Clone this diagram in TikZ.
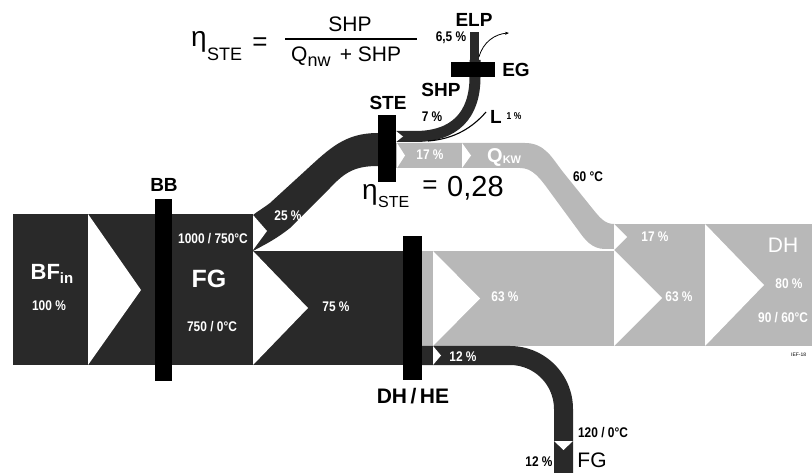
\documentclass[tikz,border=0pt]{standalone}
\usepackage{fontspec}
\setmainfont{Liberation Sans}
\usetikzlibrary{arrows.meta}
\definecolor{dk}{gray}{0.16}
\definecolor{lt}{gray}{0.72}
\newcommand{\sm}[1]{\scalebox{0.85}[1]{#1}}
\tikzset{
  lb/.style={inner sep=0pt, font=\bfseries\fontsize{14}{14}\selectfont},
  wlb/.style={lb, text=white},
  big/.style={inner sep=0pt, font=\bfseries\fontsize{19}{19}\selectfont},
  frm/.style={inner sep=0pt, font=\fontsize{21}{21}\selectfont},
  eta/.style={inner sep=0pt, font=\fontsize{28}{28}\selectfont},
  barbox/.style={fill=black},
  notchw/.style={fill=white},
  flowdk/.style={fill=dk},
  flowlt/.style={fill=lt},
}
\begin{document}
\begin{tikzpicture}[x=1pt,y=-1pt]
\useasboundingbox (0,0) rectangle (812,473);
% dark flows
\fill[flowdk] (13,214) rectangle (253,365);
\fill[flowdk] (253,251) rectangle (403,365);
\fill[flowdk] (253,215) .. controls (258,211) and (265,207) .. (270,203) -- (305,171) .. controls (330,148) and (345,133) .. (378,133)
  -- (378,166) .. controls (355,166) and (345,172) .. (330,188) -- (290,228) .. controls (275,240) and (262,246) .. (253,251) -- cycle;
% light flows
\fill[flowlt] (422,251) rectangle (614,346);
\fill[flowlt] (614,224) rectangle (812,346);
\fill[flowlt] (396,143) -- (525,143) .. controls (545,143) and (552,158) .. (563,172) -- (592,208) .. controls (600,218) and (605,224) .. (614,224)
  -- (614,249) -- (605,249) .. controls (592,249) and (585,240) .. (578,230) -- (553,196) .. controls (540,178) and (533,168) .. (520,168) -- (396,168) -- cycle;
% 12% flue gas band
\fill[flowdk] (422,346) -- (510,346) .. controls (544.8,346) and (573,374.2) .. (573,409) -- (573,473) -- (554,473) -- (554,409) .. controls (554,384.7) and (534.3,365) .. (510,365) -- (422,365) -- cycle;
% SHP band
\draw[dk, line width=11pt] (396,136.5) -- (415,136.5) .. controls (455,136.5) and (475,115) .. (475,77) -- (475,60);
\draw[dk, line width=9pt] (474.5,64) -- (474.5,32);
% notches
\fill[notchw] (88,214) -- (141,290) -- (88,365) -- cycle;
\fill[notchw] (253,215) -- (267,231) -- (253,250) -- cycle;
\fill[notchw] (253,251) -- (308,308) -- (253,365) -- cycle;
\fill[notchw] (433,251) -- (480,298.5) -- (433,346) -- cycle;
\fill[notchw] (433,346) -- (441,355.5) -- (433,365) -- cycle;
\fill[notchw] (614,224) -- (627,237) -- (614,250) -- cycle;
\fill[notchw] (614,250) -- (662,298) -- (614,346) -- cycle;
\fill[notchw] (705,224) -- (764,285) -- (705,346) -- cycle;
\fill[notchw] (397,143) -- (405,155.5) -- (397,168) -- cycle;
\fill[notchw] (462,143) -- (471,155.5) -- (462,168) -- cycle;
\fill[notchw] (396,131) -- (403,136.5) -- (396,142) -- cycle;
\fill[notchw] (554,441) -- (563.5,450) -- (573,441) -- cycle;
% bars
\fill[barbox] (155,199) rectangle (172,381);
\fill[barbox] (378,115) rectangle (396,182);
\fill[barbox] (403,236) rectangle (422,380);
\fill[barbox] (451,62) rectangle (495,77);
% thin lines
\coordinate (l0) at (428,141);
\coordinate (l1) at (486,112);
\draw[line width=1.1pt] (l0) .. controls (455,139) and (473,127) .. (l1);
\coordinate (e0) at (479,57);
\coordinate (e1) at (509,33);
\draw[line width=0.8pt, -{Stealth[length=4pt,width=3pt]}] (e0) .. controls (483,42) and (495,34) .. (e1);
% formula top
\node[eta, anchor=base west] (eta1) at (191,47) {η};
\node[inner sep=0pt, font=\fontsize{18}{18}\selectfont, anchor=base west] (ste1) at (207,61) {STE};
\node[inner sep=0pt, font=\fontsize{26}{26}\selectfont] (eq1) at (260,44) {=};
\draw[line width=1.2pt] (285,39) -- (417,39);
\node[frm, anchor=base] (num) at (350,32) {SHP};
\node[frm, anchor=base west] (den) at (291,62) {Q\raisebox{-5pt}{\fontsize{18}{18}\selectfont nw}\, + SHP};
% formula 2
\node[eta, anchor=base west] (eta2) at (362,200) {η};
\node[inner sep=0pt, font=\fontsize{16}{16}\selectfont, anchor=base west] (ste2) at (378,208) {STE};
\node[inner sep=0pt, font=\fontsize{26}{26}\selectfont] (eq2) at (430,187) {=};
\node[inner sep=0pt, font=\fontsize{29}{29}\selectfont, anchor=base west] (val) at (447,197) {0,28};
% big labels
\node[big] (bb) at (164,185) {BB};
\node[big] (ste) at (388,103) {STE};
\node[big] (shp) at (441,90) {SHP};
\node[big] (elp) at (474,20) {ELP};
\node[big] (eg) at (516,70) {EG};
\node[big] (ll) at (496,117) {L};
\node[big, font=\bfseries\fontsize{21}{21}\selectfont] (dhhe) at (413,396) {DH\,/\,HE};
\node[inner sep=0pt, font=\fontsize{21}{21}\selectfont] (fgb) at (592,460) {FG};
\node[inner sep=0pt, font=\fontsize{21}{21}\selectfont, text=white] (dh) at (783,245.5) {DH};
\node[inner sep=0pt, font=\bfseries\fontsize{25}{25}\selectfont, text=white] (fg) at (209,279) {FG};
\node[inner sep=0pt, font=\bfseries\fontsize{22}{22}\selectfont, text=white, anchor=base] (bf) at (52,280) {BF\raisebox{-4pt}{\fontsize{15}{15}\selectfont in}};
\node[inner sep=0pt, font=\bfseries\fontsize{20}{20}\selectfont, text=white, anchor=base west] (qkw) at (487,163) {Q\raisebox{-1pt}{\fontsize{11}{11}\selectfont KW}};
% small labels
\node[wlb] (p100) at (49,306) {\sm{100 \%}};
\node[wlb] (t1) at (213,239) {\sm{1000 / 750°C}};
\node[wlb] (t2) at (212,327) {\sm{750 / 0°C}};
\node[wlb] (p25) at (288,216) {\sm{25 \%}};
\node[wlb] (p75) at (336,307) {\sm{75 \%}};
\node[wlb] (p63a) at (505,297) {\sm{63 \%}};
\node[wlb] (p12a) at (463,357) {\sm{12 \%}};
\node[wlb] (p17a) at (430,155) {\sm{17 \%}};
\node[wlb] (p17b) at (655,237) {\sm{17 \%}};
\node[wlb] (p63b) at (679,297) {\sm{63 \%}};
\node[wlb] (p80) at (789,284) {\sm{80 \%}};
\node[wlb, anchor=west] (t3) at (758,318) {\sm{90 / 60°C}};
\node[lb] (p65) at (451,38) {\sm{6,5 \%}};
\node[lb] (p7) at (432,117) {\sm{7 \%}};
\node[lb, font=\bfseries\fontsize{10}{10}\selectfont] (p1) at (514,116) {\sm{1 \%}};
\node[lb] (t60) at (588,177) {\sm{60 °C}};
\node[lb] (t120) at (603,433) {\sm{120 / 0°C}};
\node[lb] (p12b) at (539,462) {\sm{12 \%}};
\node[inner sep=0pt, font=\fontsize{5}{5}\selectfont, anchor=west] (ief) at (791,355) {IEF-18};
\end{tikzpicture}
\end{document}
